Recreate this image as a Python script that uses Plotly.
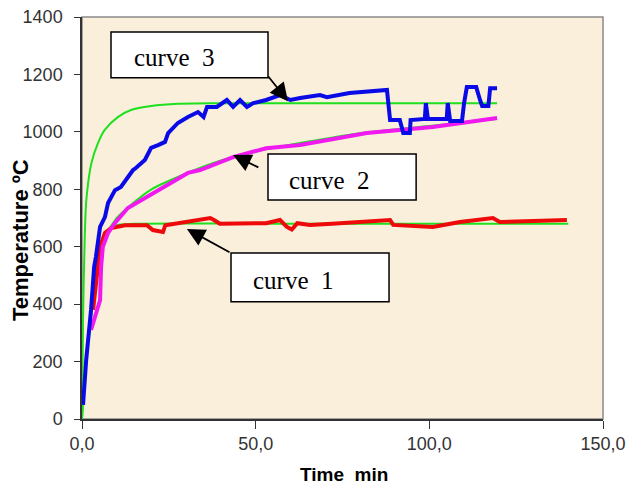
import plotly.graph_objects as go

# ---- data ----
c3_x = [0.3, 1.2, 2.6, 3.5, 4.0, 5.2, 6.6, 7.5, 9.5, 11.2, 14.7, 15.5, 18.1, 19.9, 21.9, 23.9, 24.8, 27.6, 30.5, 33.4,
        35.0, 36.0, 38.8, 41.7, 43.5, 45.5, 47.5, 49.3, 53.0, 57.0, 60.0, 62.8, 68.5, 70.5, 77.0, 87.8,
        88.7, 91.5, 92.5, 94.4, 94.6, 98.7, 99.0, 99.6, 105.0, 105.3, 106.0, 109.4, 110.0, 110.8, 112.6, 113.5,
        114.6, 115.2, 117.0, 117.5, 119.5]
c3_y = [49, 205, 380, 530, 564, 669, 703, 752, 797, 808, 867, 874, 902, 944, 954, 965, 996, 1031, 1052, 1069,
        1052, 1087, 1087, 1111, 1087, 1111, 1087, 1100, 1111, 1128, 1111, 1118, 1128, 1121, 1135, 1146,
        1041, 1041, 996, 996, 1041, 1045, 1100, 1045, 1045, 1100, 1038, 1038, 1100, 1156, 1156, 1156,
        1111, 1090, 1090, 1152, 1152]

c2_x = [2.6, 3.7, 5.2, 5.5, 6.0, 7.5, 9.5, 13.2, 18.1, 23.9, 30.5, 34.0, 43.5, 53.0, 62.8, 82.0, 101.0, 119.5]
c2_y = [310, 355, 414, 530, 600, 648, 683, 735, 770, 808, 857, 867, 912, 943, 954, 996, 1017, 1048]

c1_x = [3.2, 3.5, 4.6, 5.2, 6.6, 8.4, 12.4, 18.7, 20.4, 23.3, 24.0, 28.2, 34.8, 36.9, 38.0, 39.7, 53.0, 57.0,
        59.0, 60.4, 62.0, 65.6, 72.0, 88.7, 89.6, 101.0, 108.8, 118.3, 120.3, 139.6]
c1_y = [380, 410, 530, 600, 648, 665, 675, 675, 658, 651, 675, 682, 693, 700, 693, 680, 682, 693,
        669, 660, 682, 676, 680, 693, 676, 669, 686, 700, 686, 693]

g3_x = [0.0, 0.3, 0.77, 1.25, 2.7, 4.6, 6.5, 10.4, 14.1, 19.9, 27.6, 40.0, 119.5]
g3_y = [0, 350, 623, 763, 891, 961, 1006, 1052, 1076, 1090, 1098, 1100, 1100]

g2_x = [0.0, 0.9, 3.2, 5.2, 7.0, 10.0, 15.0, 20.0, 30.0, 40.0, 50.0, 60.0, 80.0, 100.0, 119.5]
g2_y = [0, 160, 414, 560, 640, 700, 755, 800, 855, 900, 932, 955, 995, 1020, 1045]

g1_x = [0.0, 0.9, 3.2, 5.2, 7.0, 10.0, 15.0, 60.0, 140.0]
g1_y = [0, 160, 414, 588, 650, 675, 680, 680, 680]

x_ticks = [0, 50, 100, 150]
x_tick_text = ["0,0", "50,0", "100,0", "150,0"]
y_ticks = [0, 200, 400, 600, 800, 1000, 1200, 1400]

labels = ["curve  3", "curve  2", "curve  1"]
x_title = "<b>Time  min</b>"
y_title = "<b>Temperature ºC</b>"

fig = go.Figure()
green = "#1ee01e"
for gx, gy in [(g3_x, g3_y), (g2_x, g2_y), (g1_x, g1_y)]:
    fig.add_trace(go.Scatter(x=gx, y=gy, mode="lines", line=dict(color=green, width=2, shape="spline", smoothing=0.8),
                             showlegend=False, hoverinfo="skip"))
fig.add_trace(go.Scatter(x=c1_x, y=c1_y, mode="lines", line=dict(color="#ee0a0a", width=4), showlegend=False))
fig.add_trace(go.Scatter(x=c2_x, y=c2_y, mode="lines", line=dict(color="#f01af0", width=4), showlegend=False))
fig.add_trace(go.Scatter(x=c3_x, y=c3_y, mode="lines", line=dict(color="#0a0ae6", width=4), showlegend=False))

# label boxes
boxes = [(8.35, 53.55, 1188, 1348), (53.55, 96.2, 763, 923), (42.9, 88.4, 408, 578)]
for (x0, x1, y0, y1) in boxes:
    fig.add_shape(type="rect", x0=x0, x1=x1, y0=y0, y1=y1, xref="x", yref="y",
                  fillcolor="white", line=dict(color="black", width=1.5), layer="above")

text_pos = [(14.4, 1258), (59.0, 832), (48.6, 484)]
for lab, (tx, ty) in zip(labels, text_pos):
    fig.add_annotation(x=tx, y=ty, xref="x", yref="y", text=lab, showarrow=False, xanchor="left",
                       yanchor="middle", font=dict(family="Liberation Serif", size=25, color="black"))

arrows = [((53.3, 1198), (59.3, 1107)), ((51.2, 874), (43.5, 919)), ((42.9, 578), (30.2, 662))]
for (tail, tip) in arrows:
    fig.add_annotation(x=tip[0], y=tip[1], ax=tail[0], ay=tail[1], xref="x", yref="y", axref="x", ayref="y",
                       text="", showarrow=True, arrowhead=2, arrowsize=2.0, arrowwidth=1.8, arrowcolor="black")

# axis titles as annotations (positioned like the reference)
fig.add_annotation(x=-0.1171, y=0.4453, xref="paper", yref="paper", text=y_title, textangle=-90,
                   showarrow=False, xanchor="center", yanchor="middle",
                   font=dict(family="Liberation Sans", size=22, color="black"))
fig.add_annotation(x=0.503, y=-0.1393, xref="paper", yref="paper", text=x_title,
                   showarrow=False, xanchor="center", yanchor="middle",
                   font=dict(family="Liberation Sans", size=19, color="black"))

# frame (gray top/right)
fig.add_shape(type="rect", x0=0, x1=1, y0=0, y1=1, xref="paper", yref="paper",
              line=dict(color="#8a8a8a", width=1.5), layer="below")

fig.update_layout(
    width=626, height=488,
    margin=dict(l=82, r=23, t=17, b=69, autoexpand=False),
    paper_bgcolor="white",
    plot_bgcolor="#f9efdb",
    font=dict(family="Liberation Sans", color="#333333"),
)
fig.update_xaxes(range=[0, 150], tickvals=x_ticks, ticktext=x_tick_text, showgrid=False, zeroline=False,
                 showline=True, linecolor="#333333", linewidth=1.5, ticks="outside", ticklen=8, automargin=False,
                 ticklabeloverflow="allow",
                 tickcolor="#333333", tickfont=dict(size=18, color="#333333"))
fig.update_yaxes(range=[0, 1400], tickvals=y_ticks, showgrid=False, zeroline=False,
                 showline=True, linecolor="#333333", linewidth=1.5, ticks="outside", ticklen=6, automargin=False,
                 ticklabelstandoff=8, ticklabeloverflow="allow",
                 tickcolor="#333333", tickfont=dict(size=18, color="#333333"))

fig.write_html("out.html", config={"displayModeBar": False},
               post_script="document.body.style.margin='0';document.body.style.overflow='hidden';")
